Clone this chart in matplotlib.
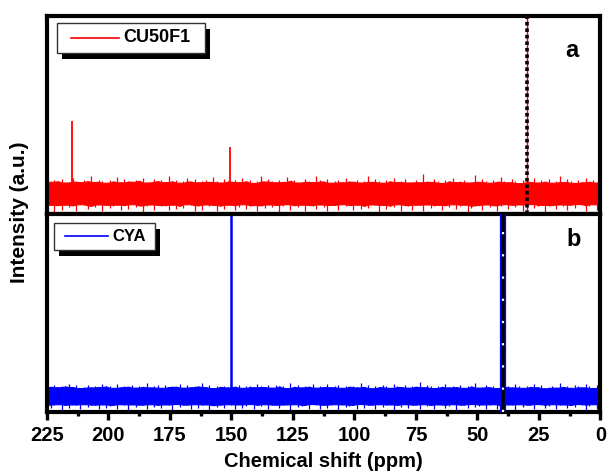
import numpy as np
import matplotlib
matplotlib.use("Agg")
from matplotlib import pyplot as plt
from matplotlib.patches import Rectangle
from matplotlib.lines import Line2D
from matplotlib.ticker import MultipleLocator

# noise envelopes, ppm 0 -> 225 in 1.5 ppm steps
red_upper = [
    16.8, 15.9, 17.4, 16.3, 18.1, 16.0, 17.2, 15.7, 16.9, 17.8,
    16.1, 19.2, 16.6, 15.8, 17.5, 16.4, 17.0, 15.9, 18.4, 16.2,
    16.7, 17.3, 15.6, 16.9, 17.9, 16.0, 16.5, 18.8, 16.3, 17.1,
    15.8, 16.6, 17.6, 16.2, 19.5, 16.4, 15.9, 17.2, 16.8, 16.1,
    18.0, 16.5, 17.0, 15.7, 16.9, 17.7, 16.2, 16.6, 20.1, 16.0,
    17.3, 16.4, 15.9, 17.8, 16.7, 16.1, 18.3, 16.5, 17.0, 15.8,
    16.9, 17.5, 16.2, 19.0, 16.6, 15.9, 17.4, 16.3, 16.8, 18.2,
    16.0, 17.1, 16.5, 15.8, 17.9, 16.4, 17.2, 19.4, 16.1, 16.7,
    17.6, 16.3, 15.9, 17.0, 16.8, 18.5, 16.2, 17.3, 16.0, 16.6,
    17.8, 16.4, 19.1, 16.9, 15.7, 17.2, 16.5, 18.0, 16.1, 17.4,
    16.3, 16.8, 17.7, 15.9, 16.6, 18.9, 16.2, 17.1, 16.7, 16.0,
    17.5, 16.4, 18.2, 16.9, 15.8, 17.3, 16.5, 19.3, 16.1, 17.0,
    16.6, 17.9, 16.2, 15.9, 18.4, 16.8, 17.2, 16.3, 16.7, 17.6,
    16.0, 18.7, 16.5, 17.1, 15.8, 16.9, 17.4, 16.2, 19.0, 16.6,
    17.3, 16.1, 16.8, 18.1, 16.4, 15.9, 17.7, 16.5, 17.0, 16.3,
    17.2,
]
red_lower = [
    4.6, 2.1, 4.9, 3.8, 1.4, 4.4, 5.0, 3.2, 4.7, 1.9,
    4.2, 4.8, 2.6, 4.5, 3.9, 1.2, 4.6, 4.1, 2.8, 5.0,
    4.3, 1.7, 4.8, 3.5, 4.6, 2.3, 4.9, 4.0, 1.5, 4.4,
    3.7, 4.8, 2.0, 4.5, 4.1, 3.0, 1.1, 4.7, 4.2, 2.5,
    4.9, 3.6, 4.4, 1.8, 4.6, 4.0, 2.9, 4.8, 1.3, 4.3,
    4.7, 2.2, 3.9, 4.5, 1.6, 4.9, 3.4, 4.2, 2.7, 4.6,
    1.0, 4.4, 4.8, 3.1, 4.1, 2.4, 4.7, 1.9, 4.5, 3.8,
    4.9, 2.0, 4.3, 4.6, 1.4, 3.7, 4.8, 2.6, 4.2, 4.5,
    1.7, 4.7, 3.3, 4.4, 2.1, 4.9, 4.0, 1.2, 4.6, 3.5,
    4.8, 2.8, 4.3, 1.6, 4.5, 4.1, 2.3, 4.9, 3.6, 1.9,
    4.4, 4.7, 2.5, 4.2, 1.3, 4.6, 3.9, 4.8, 2.0, 4.3,
    1.5, 4.5, 4.9, 3.2, 4.1, 2.7, 4.7, 1.8, 4.4, 3.8,
    4.6, 2.2, 4.8, 4.0, 1.1, 4.3, 3.4, 4.9, 2.4, 4.5,
    1.9, 4.7, 4.2, 2.9, 4.6, 1.4, 4.8, 3.7, 4.1, 2.6,
    4.4, 4.9, 1.7, 4.3, 3.5, 4.7, 2.1, 4.5, 1.2, 4.6,
    4.0,
]
blue_upper = [
    12.6, 13.4, 12.1, 13.0, 14.2, 12.4, 12.9, 13.6, 12.2, 13.1,
    12.7, 14.6, 12.3, 13.2, 12.8, 12.0, 13.5, 12.5, 13.9, 12.6,
    13.3, 12.2, 12.9, 14.1, 12.4, 13.0, 12.7, 13.7, 12.1, 13.2,
    12.5, 13.8, 12.8, 12.3, 14.4, 12.9, 13.1, 12.2, 13.5, 12.6,
    13.0, 12.4, 14.0, 12.7, 13.3, 12.1, 12.9, 13.6, 12.5, 15.0,
    12.8, 13.2, 12.3, 13.7, 12.6, 13.0, 14.3, 12.2, 12.9, 13.4,
    12.5, 13.1, 12.0, 13.8, 12.7, 14.5, 12.4, 13.0, 12.8, 13.3,
    12.2, 13.6, 12.9, 12.5, 14.1, 12.6, 13.2, 12.3, 13.9, 12.8,
    13.1, 12.4, 13.5, 12.7, 14.8, 12.1, 13.0, 12.9, 13.4, 12.3,
    13.7, 12.6, 13.2, 14.2, 12.5, 12.9, 13.1, 12.2, 13.6, 12.8,
    14.0, 12.4, 13.3, 12.7, 13.0, 12.1, 13.8, 12.6, 14.4, 12.9,
    13.2, 12.5, 13.5, 12.3, 14.1, 12.8, 13.0, 12.6, 13.7, 12.2,
    13.4, 12.9, 12.4, 14.6, 12.7, 13.1, 12.3, 13.6, 12.8, 13.0,
    12.5, 13.9, 12.2, 13.3, 12.9, 14.2, 12.6, 13.1, 12.4, 13.5,
    12.8, 12.1, 13.7, 12.6, 14.0, 12.9, 13.2, 12.5, 13.4, 12.7,
    13.1,
]
blue_lower = [
    3.6, 1.5, 3.9, 3.2, 1.1, 3.7, 4.0, 2.4, 3.5, 1.8,
    3.8, 3.3, 1.3, 3.9, 3.0, 2.1, 3.6, 4.0, 1.6, 3.4,
    3.7, 2.6, 3.9, 1.2, 3.5, 3.8, 2.2, 3.3, 1.7, 3.9,
    3.6, 1.4, 3.8, 3.1, 2.5, 4.0, 1.9, 3.4, 3.7, 1.0,
    3.9, 3.2, 2.0, 3.6, 3.8, 1.5, 3.5, 2.8, 3.9, 1.3,
    3.7, 3.4, 1.8, 3.9, 2.3, 3.6, 1.1, 3.8, 3.3, 2.6,
    3.9, 1.6, 3.5, 3.7, 2.0, 4.0, 1.4, 3.6, 3.2, 2.7,
    3.8, 1.2, 3.9, 3.4, 2.1, 3.7, 1.7, 3.5, 4.0, 1.5,
    3.6, 3.1, 2.4, 3.9, 1.0, 3.8, 3.3, 1.9, 3.7, 3.5,
    1.3, 3.9, 2.8, 3.6, 1.6, 4.0, 3.2, 2.2, 3.8, 1.4,
    3.5, 3.9, 1.8, 3.7, 2.5, 3.4, 1.1, 3.8, 3.6, 2.0,
    3.9, 1.5, 3.3, 3.7, 2.7, 4.0, 1.2, 3.5, 3.8, 1.9,
    3.6, 2.3, 3.9, 1.4, 3.4, 3.7, 2.6, 3.8, 1.0, 3.5,
    3.9, 1.7, 3.6, 3.2, 2.1, 3.8, 1.3, 3.7, 3.4, 2.4,
    3.9, 1.6, 3.5, 3.8, 2.0, 3.6, 1.1, 3.9, 3.3, 1.8,
    3.7,
]

# sharp peaks (ppm, top)
red_peak_ppm = [215.0, 150.5]
red_peak_top = [47.0, 34.0]
red_marker_ppm = 30.0
blue_peak_ppm = [150.0]
blue_peak_top = [120.0]
blue_marker_ppm = 39.5

ppm = np.linspace(0, 225, len(red_upper))

W, H = 607, 473


def draw_noise(ax, upper, lower, color):
    up = np.asarray(upper)
    lo = np.asarray(lower)
    # solid body of the band: lowest top / highest bottom among neighbours
    body_top = np.minimum.reduce([up, np.roll(up, 1), np.roll(up, -1)])
    body_bot = np.maximum.reduce([lo, np.roll(lo, 1), np.roll(lo, -1)])
    ax.fill_between(ppm, body_bot, body_top, color=color, lw=0.8)
    # thin spikes out to the envelopes
    ax.vlines(ppm, lo, up, color=color, lw=0.9)


plt.rcParams.update({
    'font.family': ['Liberation Sans', 'DejaVu Sans'],
    'font.weight': 'bold',
    'axes.labelweight': 'bold',
    'axes.linewidth': 3,
})

fig = plt.figure(figsize=(W / 100, H / 100), dpi=100)
ax1 = fig.add_axes([0.0774, 0.5476, 0.9116, 0.4186])
ax2 = fig.add_axes([0.0774, 0.129, 0.9116, 0.4186], sharex=ax1)

# top panel
draw_noise(ax1, red_upper, red_lower, 'red')
ax1.vlines(red_peak_ppm, 10, red_peak_top, color='red', lw=1.3)
ax1.axvline(red_marker_ppm, color='red', lw=1.0, zorder=3)
ax1.axvline(red_marker_ppm, color='black', lw=2.6, ls=(0, (1, 0.8)), zorder=4)
ax1.set_ylim(0, 100)

# bottom panel
draw_noise(ax2, blue_upper, blue_lower, 'blue')
ax2.vlines(blue_peak_ppm, 8, blue_peak_top, color='blue', lw=1.8)
ax2.axvline(blue_marker_ppm, color='blue', lw=4.5, zorder=3)
ax2.axvline(blue_marker_ppm, color='black', lw=2.6, zorder=4)
ax2.axvline(blue_marker_ppm, color='white', lw=1.6, ls=(0, (1, 9)), zorder=5)
ax2.set_ylim(0, 100)

ax2.set_xlim(225, 0)
ax2.xaxis.set_major_locator(MultipleLocator(25))
ax2.xaxis.set_minor_locator(MultipleLocator(12.5))
ax2.tick_params(axis='x', which='major', direction='out', length=5.5, width=2.4,
                labelsize=14.5, pad=4.5, top=False)
ax2.tick_params(axis='x', which='minor', direction='out', length=3.2, width=2.4, top=False)
ax2.tick_params(axis='y', left=False, labelleft=False)
ax1.tick_params(axis='both', which='both', bottom=False, labelbottom=False,
                left=False, labelleft=False)
ax2.set_xlabel('Chemical shift (ppm)', fontsize=14.5, labelpad=5)
fig.text(20 / W, 1 - 212 / H, 'Intensity (a.u.)', rotation=90, fontsize=15,
         fontweight='bold', ha='center', va='center')

ax1.text(0.949, 0.828, 'a', transform=ax1.transAxes, fontsize=17, fontweight='bold',
         ha='center', va='center')
ax2.text(0.951, 0.873, 'b', transform=ax2.transAxes, fontsize=17, fontweight='bold',
         ha='center', va='center')


def legend_box(ax, box, line, text_x, label, color, size):
    """Legend drawn by hand: box (x0, y0, x1, y1) and line in pixels from top-left."""
    x0, y0, x1, y1 = box
    fx = lambda px: px / W
    fy = lambda py: 1 - py / H
    tf = fig.transFigure
    ax.add_patch(Rectangle((fx(x0 + 5), fy(y1 + 6)), fx(x1) - fx(x0), fy(y0) - fy(y1),
                           transform=tf, facecolor='black', edgecolor='none',
                           zorder=6, clip_on=False))
    ax.add_patch(Rectangle((fx(x0), fy(y1)), fx(x1) - fx(x0), fy(y0) - fy(y1),
                           transform=tf, facecolor='white', edgecolor='#333333', lw=1.0,
                           zorder=7, clip_on=False))
    ym = (y0 + y1) / 2
    ax.add_line(Line2D([fx(line[0]), fx(line[1])], [fy(ym), fy(ym)], transform=tf,
                       color=color, lw=1.2, zorder=8, clip_on=False))
    ax.text(fx(text_x), fy(ym), label, transform=tf, fontsize=size, fontweight='bold',
            ha='left', va='center', zorder=9)


legend_box(ax1, (57, 23, 205, 53), (71, 119), 123, 'CU50F1', 'red', 13)
legend_box(ax2, (54, 223, 155, 250), (65, 108), 112, 'CYA', 'blue', 12)

fig.savefig('out.png', dpi=100)
